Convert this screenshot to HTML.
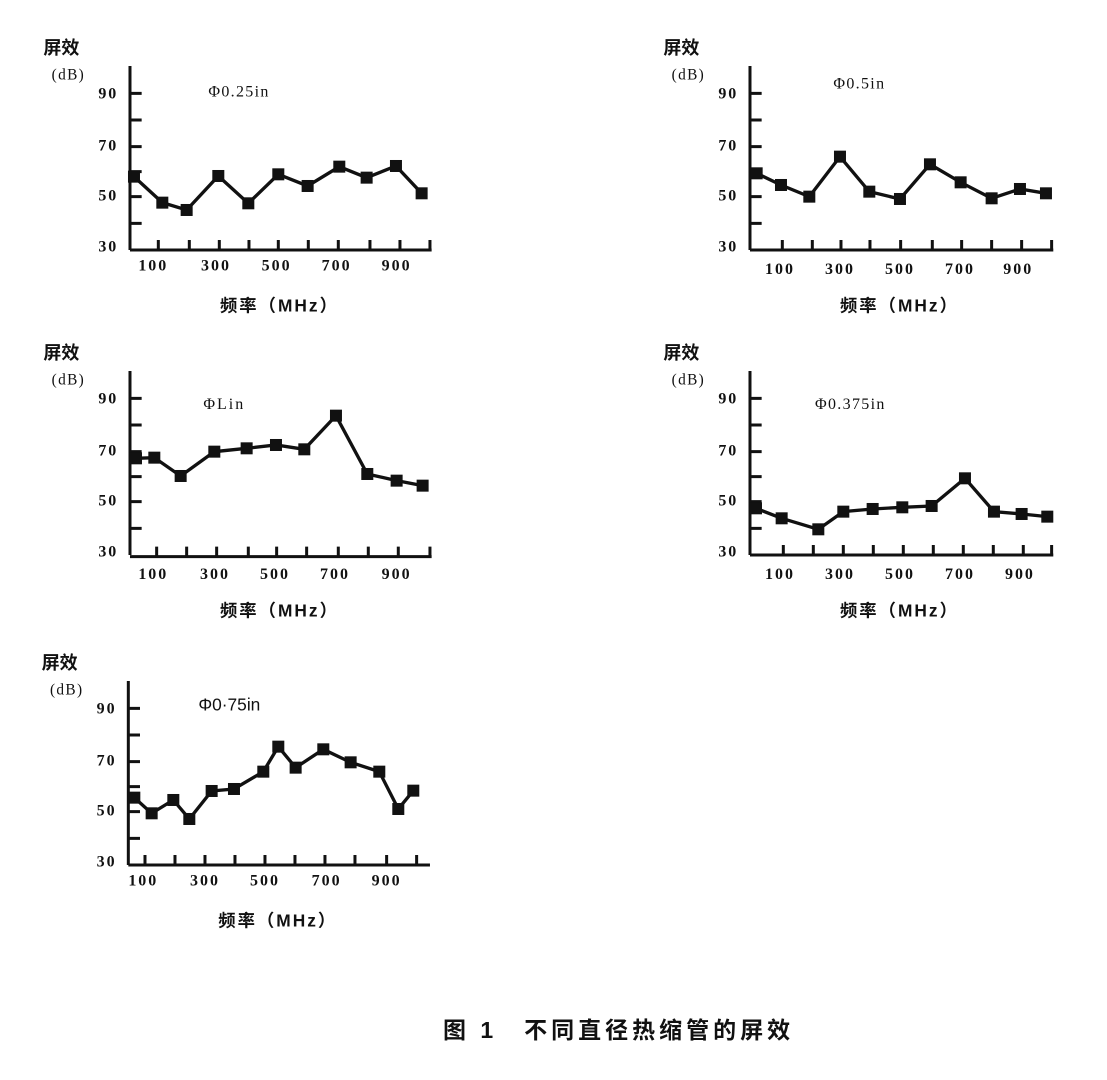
<!DOCTYPE html>
<html><head><meta charset="utf-8"><style>
html,body{margin:0;padding:0;background:#fff;}
svg{display:block;}
text{font-family:"Liberation Serif","Noto Serif CJK SC",serif;fill:#111;}
.n{font-weight:bold;letter-spacing:6px;}
.cj{font-family:"Liberation Sans","Noto Sans CJK SC",sans-serif;font-weight:bold;}
</style></head><body>
<svg width="1107" height="1080" viewBox="0 0 1107 1080" xmlns="http://www.w3.org/2000/svg">
<defs>
<marker id="sq" markerUnits="userSpaceOnUse" markerWidth="40" markerHeight="40" refX="20" refY="20" viewBox="0 0 40 40"><rect x="2" y="2" width="36" height="36" fill="#111"/></marker>
<g id="yax">
<path d="M300 108V660M300 190h35M300 270h35M300 350h35M300 425h35M300 500h35M300 580h35" stroke="#111" stroke-width="9" fill="none"/>
<text class="n" x="205" y="205" font-size="48">90</text><text class="n" x="205" y="362" font-size="48">70</text><text class="n" x="205" y="512" font-size="48">50</text><text class="n" x="205" y="665" font-size="48">30</text>
<text class="cj" x="40" y="72" font-size="54">屏效</text>
<text x="65" y="148" font-size="46" letter-spacing="4">(dB)</text>
<text class="cj" x="570" y="845" font-size="52" letter-spacing="6">频率（MHz）</text>
</g>
</defs>

<g transform="translate(30,30) scale(0.3333)">
<use href="#yax"/>
<path d="M300 660H1205M385 660v-30M478 660v-30M568 660v-30M657 660v-30M745 660v-30M835 660v-30M925 660v-30M1020 660v-30M1110 660v-30M1200 660v-30" stroke="#111" stroke-width="9"/>
<text class="n" x="325" y="722" font-size="48">100</text><text class="n" x="513" y="722" font-size="48">300</text><text class="n" x="695" y="722" font-size="48">500</text><text class="n" x="875" y="722" font-size="48">700</text><text class="n" x="1055" y="722" font-size="48">900</text>
<text x="535" y="200" font-size="48" letter-spacing="4">Φ0.25in</text>
<polyline points="312,440 397,518 470,540 565,438 655,520 745,433 833,468 928,410 1010,443 1098,408 1175,490" fill="none" stroke="#111" stroke-width="10" marker-start="url(#sq)" marker-mid="url(#sq)" marker-end="url(#sq)"/>
</g>

<g transform="translate(650,30) scale(0.3333)">
<use href="#yax"/>
<path d="M300 660H1210M397 660v-30M487 660v-30M573 660v-30M660 660v-30M752 660v-30M847 660v-30M935 660v-30M1025 660v-30M1115 660v-30M1205 660v-30" stroke="#111" stroke-width="9"/>
<text class="n" x="345" y="732" font-size="48">100</text><text class="n" x="525" y="732" font-size="48">300</text><text class="n" x="705" y="732" font-size="48">500</text><text class="n" x="885" y="732" font-size="48">700</text><text class="n" x="1060" y="732" font-size="48">900</text>
<text x="550" y="175" font-size="48" letter-spacing="4">Φ0.5in</text>
<polyline points="320,430 393,465 478,500 570,380 658,485 750,507 840,403 932,457 1025,505 1110,477 1188,490" fill="none" stroke="#111" stroke-width="10" marker-start="url(#sq)" marker-mid="url(#sq)" marker-end="url(#sq)"/>
</g>

<g transform="translate(30,335) scale(0.3333)">
<use href="#yax"/>
<path d="M300 665H1205M380 665v-30M470 665v-30M560 665v-30M655 665v-30M740 665v-30M830 665v-30M925 665v-30M1015 665v-30M1105 665v-30M1200 665v-30" stroke="#111" stroke-width="9"/>
<text class="n" x="325" y="732" font-size="48">100</text><text class="n" x="510" y="732" font-size="48">300</text><text class="n" x="690" y="732" font-size="48">500</text><text class="n" x="870" y="732" font-size="48">700</text><text class="n" x="1055" y="732" font-size="48">900</text>
<text x="520" y="222" font-size="48" letter-spacing="6">ΦLin</text>
<polyline points="318,370 373,368 452,423 553,350 650,340 738,330 823,343 918,242 1012,417 1100,437 1178,452" fill="none" stroke="#111" stroke-width="10" marker-start="url(#sq)" marker-mid="url(#sq)" marker-end="url(#sq)"/>
</g>

<g transform="translate(650,335) scale(0.3333)">
<use href="#yax"/>
<path d="M300 660H1210M400 660v-30M490 660v-30M580 660v-30M670 660v-30M760 660v-30M850 660v-30M940 660v-30M1030 660v-30M1120 660v-30M1205 660v-30" stroke="#111" stroke-width="9"/>
<text class="n" x="345" y="732" font-size="48">100</text><text class="n" x="525" y="732" font-size="48">300</text><text class="n" x="705" y="732" font-size="48">500</text><text class="n" x="885" y="732" font-size="48">700</text><text class="n" x="1065" y="732" font-size="48">900</text>
<text x="495" y="222" font-size="48" letter-spacing="4">Φ0.375in</text>
<polyline points="318,520 395,550 505,583 580,530 668,522 757,517 845,513 945,430 1032,530 1115,537 1192,545" fill="none" stroke="#111" stroke-width="10" marker-start="url(#sq)" marker-mid="url(#sq)" marker-end="url(#sq)"/>
</g>

<g transform="translate(30,645) scale(0.3333)">
<use href="#yax" transform="translate(-5,0)"/>
<path d="M295 660H1200M345 660v-30M435 660v-30M525 660v-30M615 660v-30M705 660v-30M795 660v-30M885 660v-30M975 660v-30M1070 660v-30M1160 660v-30" stroke="#111" stroke-width="9"/>
<text class="n" x="295" y="722" font-size="48">100</text><text class="n" x="480" y="722" font-size="48">300</text><text class="n" x="660" y="722" font-size="48">500</text><text class="n" x="845" y="722" font-size="48">700</text><text class="n" x="1025" y="722" font-size="48">900</text>
<text x="505" y="197" font-size="52" style="font-family:'Liberation Sans',sans-serif">Φ0·75in</text>
<polyline points="313,458 365,505 430,465 478,522 545,438 612,432 700,380 745,305 797,368 880,313 962,352 1048,380 1105,492 1150,437" fill="none" stroke="#111" stroke-width="10" marker-start="url(#sq)" marker-mid="url(#sq)" marker-end="url(#sq)"/>
</g>

<text class="cj" x="443" y="1038" font-size="23" letter-spacing="4">图 1　不同直径热缩管的屏效</text>
</svg>
</body></html>
